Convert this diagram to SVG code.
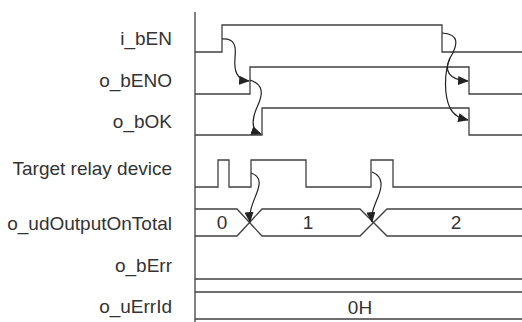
<svg xmlns="http://www.w3.org/2000/svg" width="522" height="322" viewBox="0 0 522 322">
<defs>
<style>
.lbl{font-family:"Liberation Sans",Arial,sans-serif;font-size:19px;fill:#333;text-anchor:end}
.val{font-family:"Liberation Sans",Arial,sans-serif;font-size:19px;fill:#333;text-anchor:middle}
.sig{fill:none;stroke:#404040;stroke-width:1.3}
.arr{fill:none;stroke:#222;stroke-width:1.2;marker-end:url(#ah)}
</style>
<marker id="ah" viewBox="0 0 12 10" refX="11" refY="5" markerWidth="11" markerHeight="9" markerUnits="userSpaceOnUse" orient="auto">
<path d="M0,0 L12,5 L0,10 z" fill="#222"/>
</marker>
</defs>
<rect width="522" height="322" fill="#fff"/>
<line class="sig" x1="195" y1="12" x2="195" y2="322"/>
<g id="i_bEN">
<text class="lbl" x="172" y="45">i_bEN</text>
<path class="sig" d="M195,52 H222 V25 H442 V52 H522"/>
</g>
<g id="o_bENO">
<text class="lbl" x="172" y="87">o_bENO</text>
<path class="sig" d="M195,94 H250 V67 H469 V94 H522"/>
</g>
<g id="o_bOK">
<text class="lbl" x="172" y="128">o_bOK</text>
<path class="sig" d="M195,135 H262 V108 H469 V135 H522"/>
</g>
<g id="target">
<text class="lbl" x="172" y="175">Target relay device</text>
<path class="sig" d="M195,187 H218 V160 H229 V187 H251 V160 H306 V187 H371 V160 H393 V187 H522"/>
</g>
<g id="o_udOutputOnTotal">
<text class="lbl" x="172" y="230">o_udOutputOnTotal</text>
<path class="sig" d="M195,209 H237 L262,236 H360 L387,209 H522"/>
<path class="sig" d="M195,236 H237 L262,209 H360 L387,236 H522"/>
<text class="val" x="222" y="229">0</text>
<text class="val" x="308" y="229">1</text>
<text class="val" x="456" y="229">2</text>
</g>
<g id="o_bErr">
<text class="lbl" x="172" y="272">o_bErr</text>
<path class="sig" d="M195,279 H522"/>
</g>
<g id="o_uErrId">
<text class="lbl" x="172" y="313">o_uErrId</text>
<path class="sig" d="M195,292 H522 M195,319 H522"/>
<text class="val" x="360" y="314">0H</text>
</g>
<g id="connectors">
<path class="arr" d="M222,39 C236,38 236,48 235,58 C234,70 236,80 249,81"/>
<path class="arr" d="M250,80 C262,84 264,92 258,105 C252,118 250,130 261,134"/>
<path class="arr" d="M442,33 C460,34 458,45 450,58 C444,70 448,80 468,81"/>
<path class="arr" d="M450,58 C444,72 444,95 450,108 C454,116 460,118 468,120"/>
<path class="arr" d="M251,173 C262,177 260,185 256,195 C252,205 249,212 250,222"/>
<path class="arr" d="M372,172 C384,177 382,187 378,197 C374,207 371,213 372,222"/>
</g>
</svg>
